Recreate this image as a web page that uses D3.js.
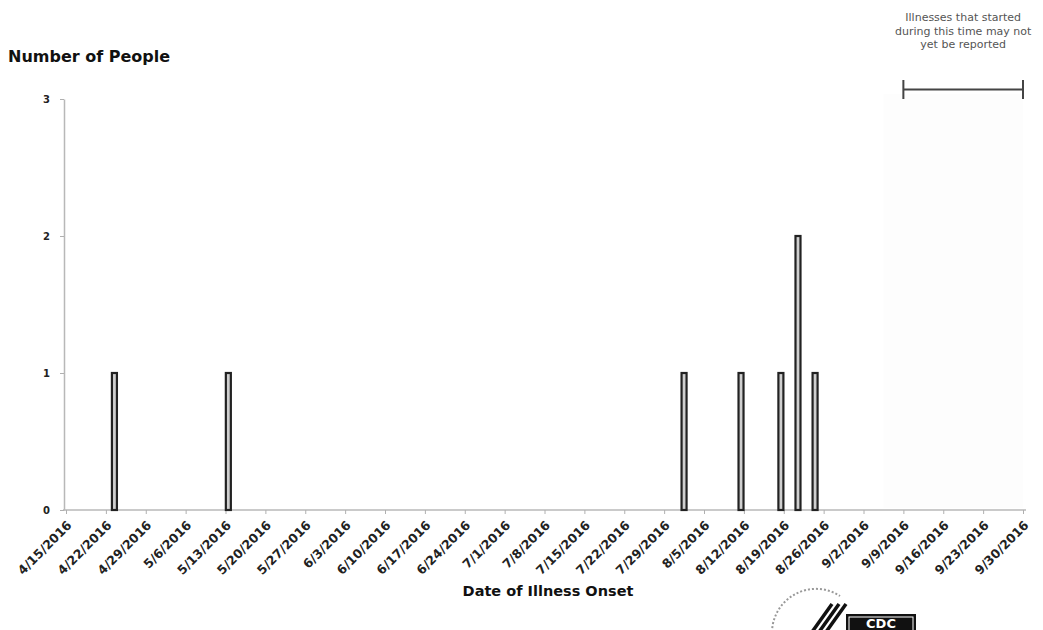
<!DOCTYPE html>
<html>
<head>
<meta charset="utf-8">
<script src="https://cdn.jsdelivr.net/npm/d3@7/dist/d3.min.js"></script>
<style>
  html, body { margin: 0; padding: 0; background: #fff; }
  svg { display: block; }
  text { font-family: "DejaVu Sans", Verdana, sans-serif; }
</style>
</head>
<body>
<svg id="chart" width="1043" height="630"></svg>
<script>
// ---- data ----
const tickLabels = ["4/15/2016","4/22/2016","4/29/2016","5/6/2016","5/13/2016","5/20/2016","5/27/2016",
  "6/3/2016","6/10/2016","6/17/2016","6/24/2016","7/1/2016","7/8/2016","7/15/2016","7/22/2016",
  "7/29/2016","8/5/2016","8/12/2016","8/19/2016","8/26/2016","9/2/2016","9/9/2016","9/16/2016",
  "9/23/2016","9/30/2016"];
const onsetDates = ["4/23/2016","5/13/2016","8/1/2016","8/11/2016","8/18/2016","8/21/2016","8/24/2016"];
const peopleCounts = [1, 1, 1, 1, 1, 2, 1];
const yTicks = [0, 1, 2, 3];
const reportWindow = ["9/9/2016", "9/30/2016"];
const yTitle = "Number of People";
const xTitle = "Date of Illness Onset";
const noteLines = ["Illnesses that started", "during this time may not", "yet be reported"];

// ---- setup ----
const parse = d3.utcParse("%m/%d/%Y");
const fmt = d3.utcFormat("%-m/%-d/%Y");
const svg = d3.select("#chart");

const x = d3.scaleUtc()
  .domain([parse(tickLabels[0]), parse(tickLabels[tickLabels.length - 1])])
  .range([66, 1023]);
const y = d3.scaleLinear().domain([0, 3]).range([510, 99]);

// very faint shading for the reporting-delay window
svg.append("rect")
  .attr("x", x(parse(reportWindow[0])) - 20)
  .attr("y", y(3) - 5)
  .attr("width", x(parse(reportWindow[1])) - x(parse(reportWindow[0])) + 20)
  .attr("height", y(0) - y(3) + 3)
  .attr("fill", "#fdfdfd");

// ---- x axis ----
const xAxis = d3.axisBottom(x)
  .tickValues(tickLabels.map(parse))
  .tickFormat(fmt)
  .tickSize(4)
  .tickSizeOuter(0);
const gx = svg.append("g").attr("transform", `translate(0,${y(0)})`).call(xAxis);
gx.select(".domain").attr("stroke", "#b8b8b8").attr("stroke-width", 1.5)
  .attr("d", `M${x.range()[0] - 3},0H${x.range()[1] + 3}`);
gx.selectAll(".tick line").attr("stroke", "#b0b0b0");
gx.selectAll(".tick text")
  .attr("fill", "#222")
  .attr("font-size", "12.5px")
  .attr("font-weight", "bold")
  .attr("text-anchor", "end")
  .attr("dy", null)
  .attr("y", 0)
  .attr("transform", "translate(6,16) rotate(-45)");

// ---- y axis ----
const yAxis = d3.axisLeft(y).tickValues(yTicks).tickFormat(d3.format("d")).tickSize(4).tickSizeOuter(0);
const gy = svg.append("g").attr("transform", `translate(${x.range()[0] - 2},0)`).call(yAxis);
gy.select(".domain").attr("stroke", "#b8b8b8").attr("stroke-width", 1.5);
gy.selectAll(".tick line").attr("stroke", "#b0b0b0");
gy.selectAll(".tick text")
  .attr("fill", "#222")
  .attr("font-size", "10px")
  .attr("font-weight", "bold")
  .attr("x", -14);

// ---- bars ----
const bars = onsetDates.map((d, i) => ({ date: parse(d), value: peopleCounts[i] }));
svg.append("g").selectAll("rect").data(bars).join("rect")
  .attr("x", d => {
    const x0 = x(d.date), x1 = x(d3.utcDay.offset(d.date, 1));
    return (x0 + x1) / 2 - 2.5;
  })
  .attr("width", 5)
  .attr("y", d => y(d.value))
  .attr("height", d => y(0) - y(d.value))
  .attr("fill", "#cfcfcf")
  .attr("stroke", "#222")
  .attr("stroke-width", 2.2);

// ---- titles ----
svg.append("text").attr("x", 8).attr("y", 62)
  .attr("font-size", "16px").attr("font-weight", "bold").attr("fill", "#111")
  .text(yTitle);
svg.append("text").attr("x", 548).attr("y", 596)
  .attr("text-anchor", "middle")
  .attr("font-size", "14.5px").attr("font-weight", "bold").attr("fill", "#111")
  .text(xTitle);

// ---- reporting note + bracket ----
const bx0 = x(parse(reportWindow[0])), bx1 = x(parse(reportWindow[1]));
const note = svg.append("g");
note.selectAll("text").data(noteLines).join("text")
  .attr("x", (bx0 + bx1) / 2)
  .attr("y", (d, i) => 21 + i * 13.5)
  .attr("text-anchor", "middle")
  .attr("font-size", "11px")
  .attr("fill", "#555")
  .text(d => d);
note.append("path")
  .attr("d", `M${bx0},80V99M${bx1},80V99M${bx0},89.5H${bx1}`)
  .attr("stroke", "#444").attr("stroke-width", 2).attr("fill", "none");

// ---- logos (partially cut off at bottom) ----
const logo = svg.append("g");
logo.append("path")
  .attr("d", "M772,632 A44,44 0 0 1 840,596")
  .attr("fill", "none").attr("stroke", "#999").attr("stroke-width", 2).attr("stroke-dasharray", "2,2");
[0, 7, 14].forEach(o => {
  logo.append("path")
    .attr("d", `M${812 + o},632 L${832 + o},604`)
    .attr("stroke", "#111").attr("stroke-width", 3.5).attr("fill", "none");
});
logo.append("rect").attr("x", 846).attr("y", 614).attr("width", 70).attr("height", 20)
  .attr("fill", "#111");
logo.append("rect").attr("x", 849).attr("y", 617).attr("width", 64).attr("height", 17)
  .attr("fill", "none").attr("stroke", "#fff").attr("stroke-width", 1);
logo.append("text").attr("x", 881).attr("y", 628).attr("text-anchor", "middle")
  .attr("font-size", "13px").attr("font-weight", "bold")
  .attr("fill", "#fff")
  .text("CDC");
</script>
</body>
</html>
